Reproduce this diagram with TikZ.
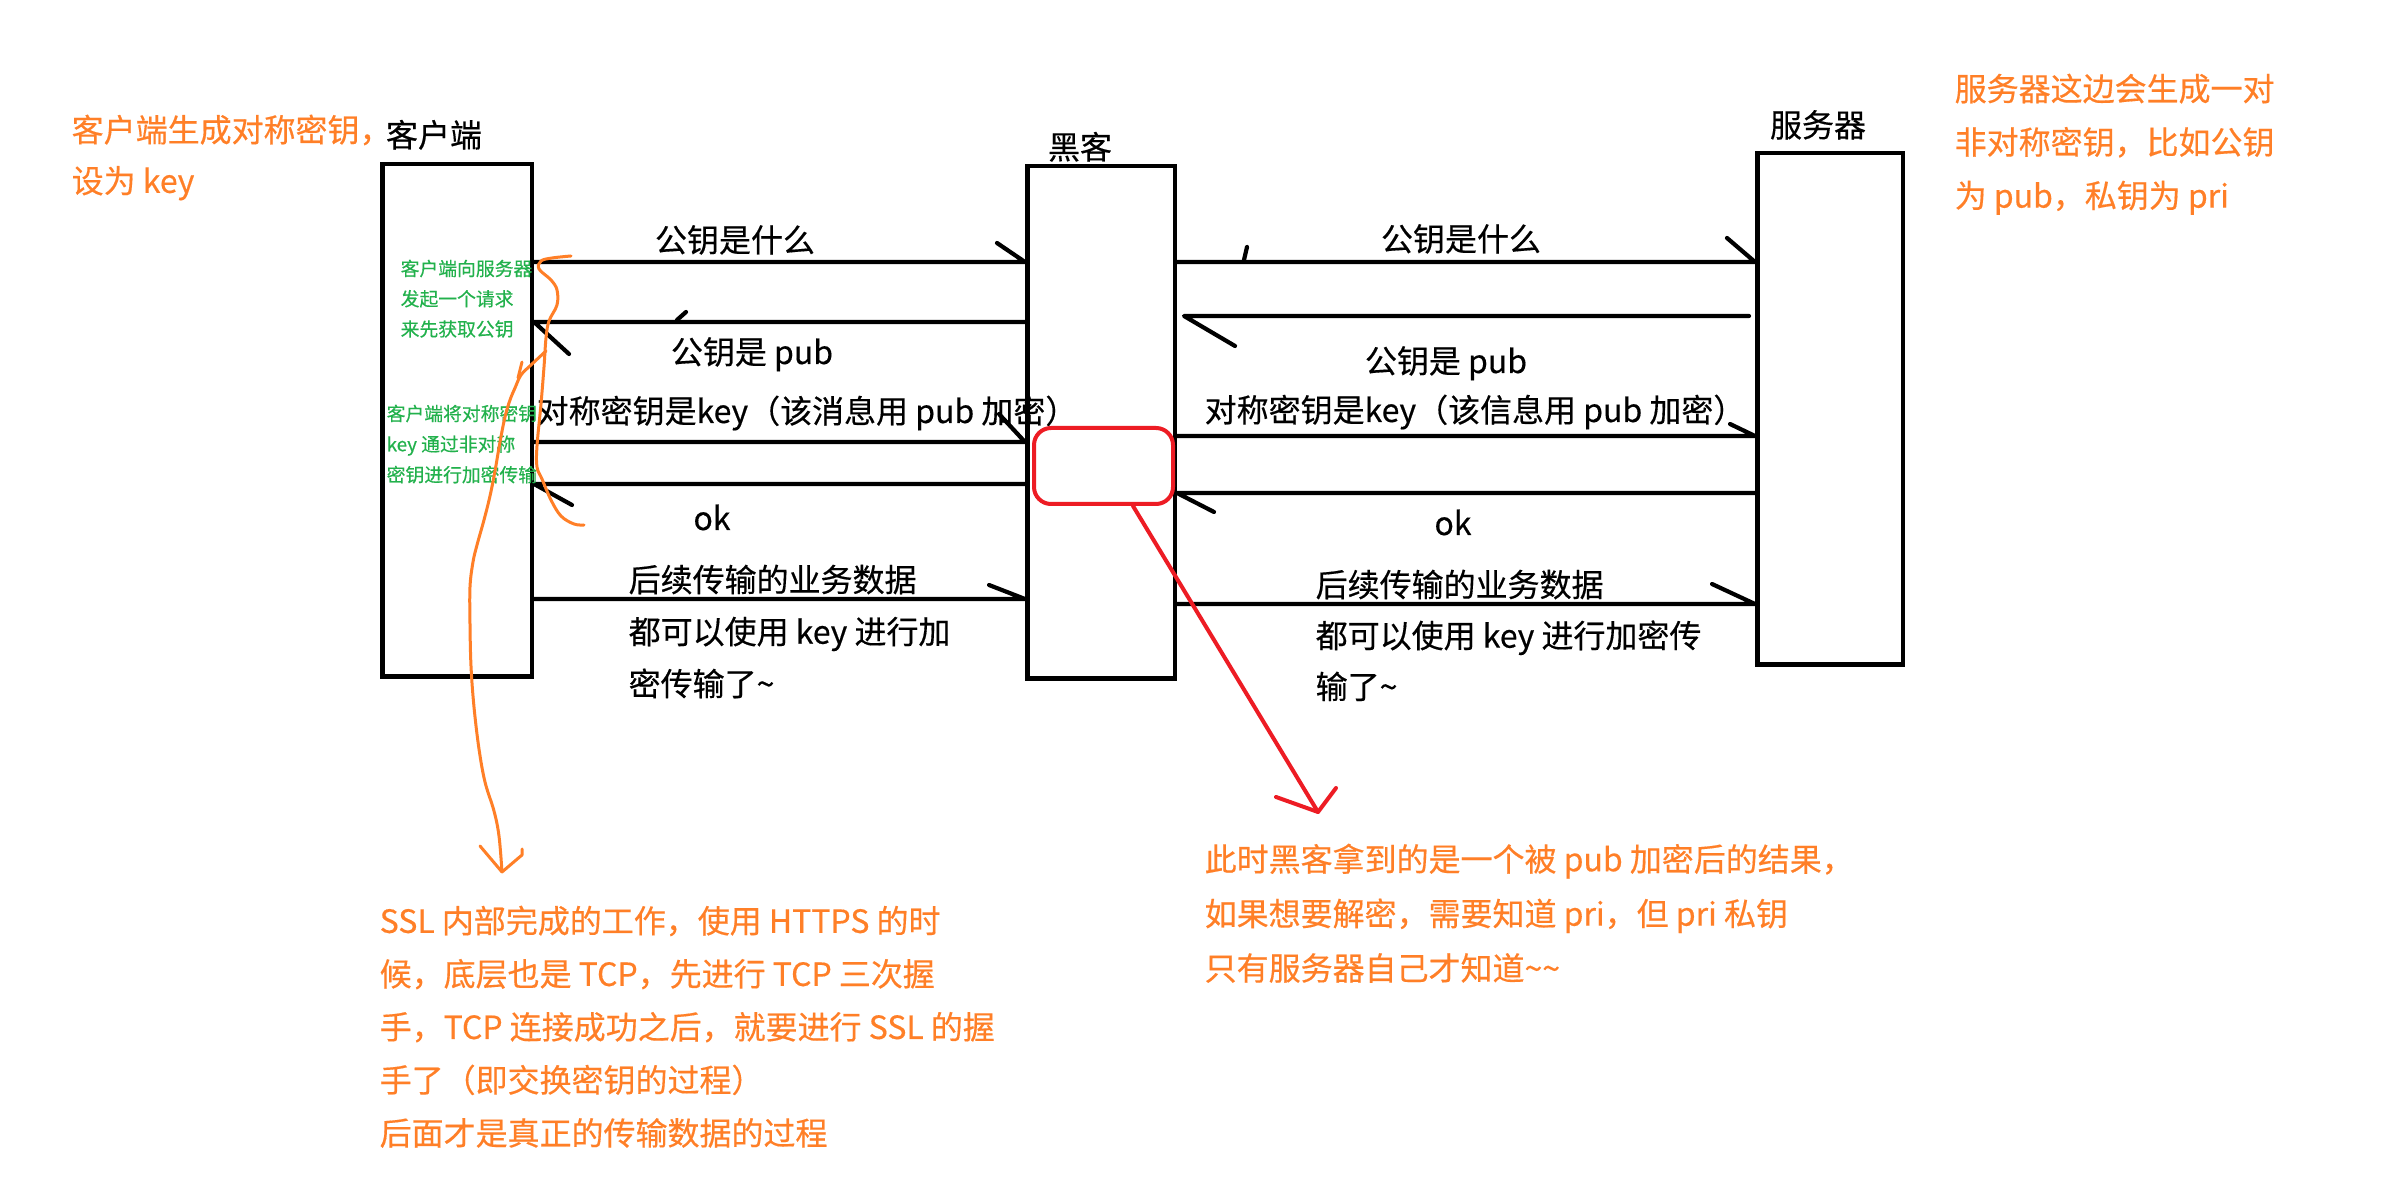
\documentclass[tikz,border=0pt]{standalone}
\usepackage{fontspec}
\setmainfont{Noto Sans CJK SC}[FakeBold=0.4]
\usetikzlibrary{calc}
\definecolor{pOrange}{HTML}{FF7F27}
\definecolor{pGreen}{HTML}{22B14C}
\definecolor{pRed}{HTML}{ED1C24}
\begin{document}
\begin{tikzpicture}[x=0.1mm, y=-0.1mm,
  lifeline/.style={draw=black, line width=0.45mm, inner sep=0pt},
  msg/.style={draw=black, line width=0.42mm, line cap=round, line join=round},
  lbl/.style={font=\fontsize{9.1pt}{14.8pt}\selectfont, inner sep=0pt, align=left},
  note/.style={text=pOrange, font=\fontsize{9.1pt}{15.2pt}\selectfont, inner sep=0pt, align=left, anchor=north west},
  gnote/.style={text=pGreen, font=\fontsize{5.35pt}{8.6pt}\selectfont, inner sep=0pt, align=left, anchor=north west},
  scribble/.style={draw=pOrange, line width=0.3mm, line cap=round, line join=round},
  redmark/.style={draw=pRed, line width=0.4mm, line cap=round, line join=round}]

\fill[white] (0,0) rectangle (2405,1192);

% lifelines
\node[lifeline, minimum width=14.95mm, minimum height=51.25mm] (client) at (457,420.5) {};
\node[lifeline, minimum width=14.75mm, minimum height=51.25mm] (hacker) at (1101,422.5) {};
\node[lifeline, minimum width=14.55mm, minimum height=51.15mm] (server) at (1830,409) {};

\node[lbl, anchor=base] (clientlbl) at (434,147) {客户端};
\node[lbl, anchor=base] (hackerlbl) at (1080,159) {黑客};
\node[lbl, anchor=base] (serverlbl) at (1818,137) {服务器};

% left messages
\draw[msg] (client.east |- 0,262) -- (hacker.west |- 0,262) -- ++(-28,-19);
\draw[msg] (hacker.west |- 0,322) -- (client.east |- 0,322) -- ++(35,32);
\draw[msg] (677,320) -- (686,312);
\draw[msg] (client.east |- 0,442) -- (hacker.west |- 0,442) -- ++(-26,-28);
\draw[msg] (hacker.west |- 0,484) -- (client.east |- 0,484) -- ++(38,21);
\draw[msg] (client.east |- 0,599) -- (hacker.west |- 0,599) -- ++(-36,-14);

% right messages
\draw[msg] (hacker.east |- 0,262) -- (server.west |- 0,262) -- ++(-28,-24);
\draw[msg] (1247,247) -- (1244,260);
\draw[msg] ($(server.west |- 0,316)+(-6,0)$) -- ($(hacker.east |- 0,316)+(7,0)$) -- ++(51,30);
\draw[msg] (hacker.east |- 0,436) -- (server.west |- 0,436) -- ++(-25,-12);
\draw[msg] (server.west |- 0,493) -- (hacker.east |- 0,493) -- ++(37,19);
\draw[msg] (hacker.east |- 0,604) -- (server.west |- 0,604) -- ++(-43,-20);

% left labels
\node[lbl, anchor=base] (l1) at (735,252) {公钥是什么};
\node[lbl, anchor=base] (l2) at (752,364) {公钥是 pub};
\node[lbl, anchor=base west] (l3) at (536,423) {对称密钥是key（该消息用 pub 加密）};
\node[lbl, anchor=base] (l4) at (712,530) {ok};
\node[lbl, anchor=north west] (l5) at (628,564) {后续传输的业务数据\\都可以使用 key 进行加\\密传输了\textasciitilde};

% right labels
\node[lbl, anchor=base] (r1) at (1461,251) {公钥是什么};
\node[lbl, anchor=base] (r2) at (1446,373) {公钥是 pub};
\node[lbl, anchor=base west] (r3) at (1204,422) {对称密钥是key（该信息用 pub 加密）};
\node[lbl, anchor=base] (r4) at (1453,535) {ok};
\node[lbl, anchor=north west, font=\fontsize{9.1pt}{14.5pt}\selectfont] (r5) at (1315,569) {后续传输的业务数据\\都可以使用 key 进行加密传\\输了\textasciitilde};

% green notes
\node[gnote] (g1) at (400,259) {客户端向服务器\\发起一个请求\\来先获取公钥};
\node[gnote, font=\fontsize{5.35pt}{8.7pt}\selectfont] (g2) at (386,404) {客户端将对称密钥\\key 通过非对称\\密钥进行加密传输};

% orange notes
\node[note, font=\fontsize{9.1pt}{14.5pt}\selectfont] (n1) at (71,114) {客户端生成对称密钥，\\设为 key};
\node[note] (n2) at (1954,73) {服务器这边会生成一对\\非对称密钥，比如公钥\\为 pub，私钥为 pri};
\node[note, font=\fontsize{9.1pt}{15.1pt}\selectfont] (n3) at (379,905) {SSL 内部完成的工作，使用 HTTPS 的时\\候，底层也是 TCP，先进行 TCP 三次握\\手，TCP 连接成功之后，就要进行 SSL 的握\\手了（即交换密钥的过程）\\后面才是真正的传输数据的过程};
\node[note, font=\fontsize{9.1pt}{15.5pt}\selectfont] (n4) at (1204,843) {此时黑客拿到的是一个被 pub 加密后的结果，\\如果想要解密，需要知道 pri，但 pri 私钥\\只有服务器自己才知道\textasciitilde\textasciitilde};

% orange scribbles
\draw[scribble] plot[smooth, tension=0.6] coordinates {(571,256) (552,258) (541,261) (539,269) (551,280) (557,290) (557,305) (549,321) (546,338) (544,367) (541,404) (537,446) (537,467) (542,479) (551,500) (561,516) (574,524) (584,525)};
\coordinate (otip) at (502,872);
\draw[scribble] plot[smooth, tension=0.6] coordinates {(546,351) (531,365) (521,375) (515,388) (510,400) (505,417) (500,442) (495,471) (490,496) (484,520) (477,545) (473,562) (470,587) (470,624) (471,666) (474,707) (479,749) (485,782) (494,811) (499,836) (otip)};
\draw[scribble] (522,362) -- (518,378);
\draw[scribble] (480,846) -- (otip) -- (522,855) -- (522,849);

% red highlight
\node[draw=pRed, line width=0.4mm, rounded corners=1.7mm, inner sep=0pt, minimum width=13.9mm, minimum height=7.6mm] (hl) at (1103.5,466) {};
\coordinate (redtip) at (1318,812);
\draw[redmark] (hl.south -| 1133,0) -- (redtip);
\draw[redmark] ($(redtip)+(-42,-15)$) -- (redtip) -- ++(18,-24);
\end{tikzpicture}
\end{document}
